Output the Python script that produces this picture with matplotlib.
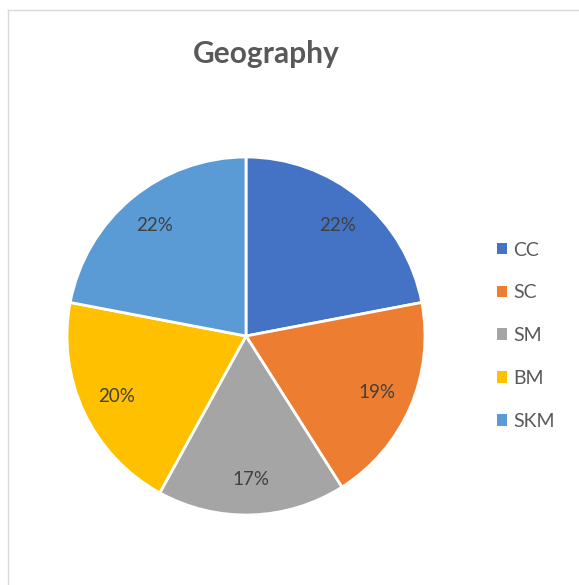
import matplotlib
matplotlib.use("Agg")
import matplotlib.pyplot as plt
from matplotlib.lines import Line2D

categories = ["CC", "SC", "SM", "BM", "SKM"]
values = [22, 19, 17, 20, 22]
colors = ["#4472C4", "#ED7D31", "#A5A5A5", "#FFC000", "#5B9BD5"]
title = "Geography"

W, H = 579, 585
fig = plt.figure(figsize=(W / 100, H / 100), dpi=100)
fig.patch.set_facecolor("white")

# light frame (left and top edges visible)
fig.add_artist(Line2D([8 / W, 8 / W], [0, 1 - 10 / H], color="#D9D9D9", lw=1.0))
fig.add_artist(Line2D([8 / W, 1], [1 - 10 / H, 1 - 10 / H], color="#D9D9D9", lw=1.0))

cx, cy, r = 246, 336, 179
ax = fig.add_axes([(cx - r) / W, 1 - (cy + r) / H, 2 * r / W, 2 * r / H])
wedges, texts, autotexts = ax.pie(
    values, colors=colors, startangle=90, counterclock=False,
    autopct=lambda p: f"{p:.0f}%", pctdistance=0.8,
    wedgeprops=dict(edgecolor="white", linewidth=2),
    textprops=dict(fontsize=13.5, color="#404040", family="Lato"),
)
ax.set_xlim(-1, 1)
ax.set_ylim(-1, 1)
ax.set_aspect("equal")
ax.axis("off")

fig.text(266 / W, 1 - 54 / H, title, ha="center", va="center",
         fontsize=21.5, fontweight="bold", color="#595959", family="Lato")

leg = fig.legend(wedges, categories, loc="upper left",
                 bbox_to_anchor=(479 / W, 1 - 224 / H), frameon=False,
                 handlelength=0.55, handleheight=0.55, handletextpad=0.3,
                 labelspacing=1.33, prop=dict(family="Lato", size=14))
for t in leg.get_texts():
    t.set_color("#595959")
for h in leg.legend_handles:
    h.set_edgecolor("none")

fig.savefig("out.png", dpi=100)
